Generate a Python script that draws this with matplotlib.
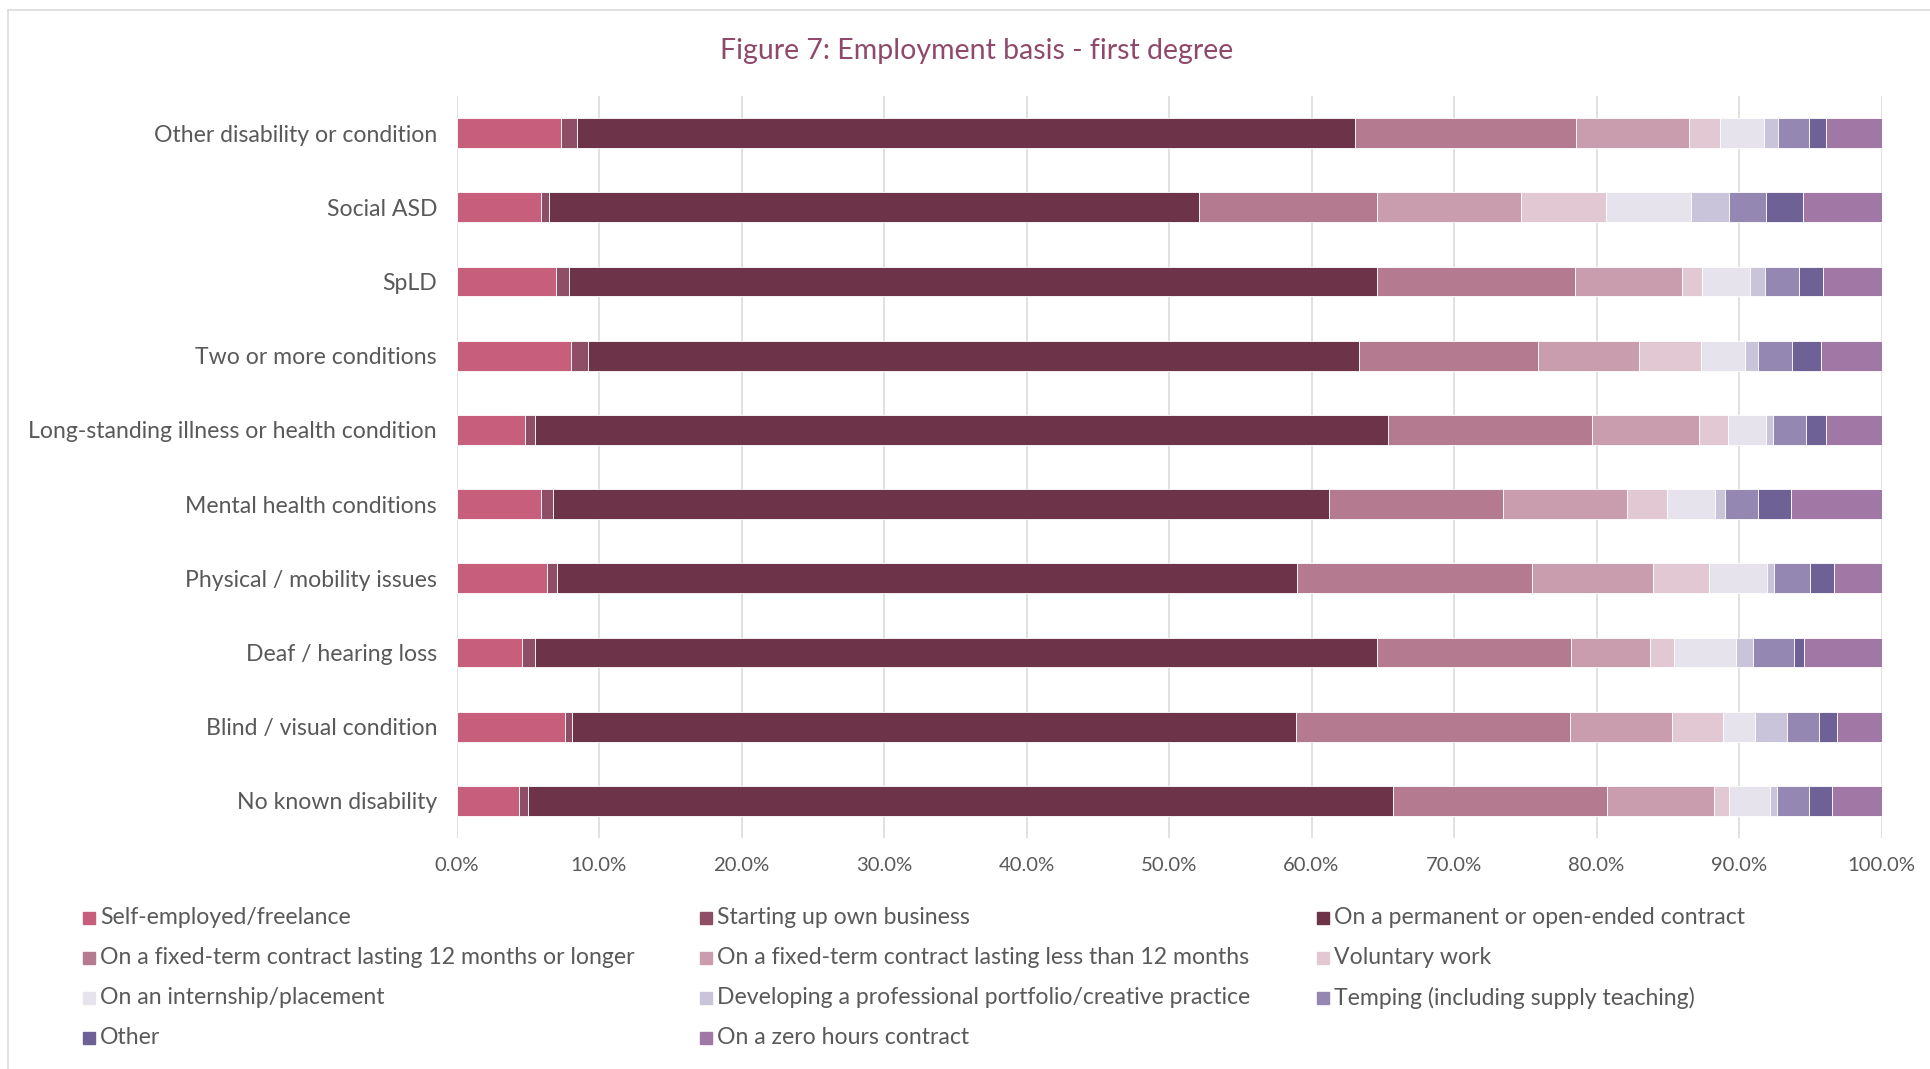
import matplotlib.pyplot as plt
import numpy as np
from matplotlib.patches import Rectangle
from matplotlib.lines import Line2D

plt.rcParams['font.family'] = ['Lato', 'DejaVu Sans']

# categories top to bottom
categories = ['Other disability or condition', 'Social ASD', 'SpLD', 'Two or more conditions',
              'Long-standing illness or health condition', 'Mental health conditions',
              'Physical / mobility issues', 'Deaf / hearing loss', 'Blind / visual condition',
              'No known disability']

# shares in %, same order as categories
self_employed = [7.30, 5.95, 6.95, 8.05, 4.79, 5.92, 6.33, 4.58, 7.64, 4.42]
starting_up = [1.16, 0.57, 0.92, 1.16, 0.75, 0.85, 0.72, 0.96, 0.47, 0.59]
permanent = [54.58, 45.61, 56.70, 54.10, 59.81, 54.46, 51.93, 59.03, 50.82, 60.69]
fixed_12plus = [15.51, 12.47, 13.92, 12.58, 14.33, 12.21, 16.48, 13.66, 19.22, 15.03]
fixed_under12 = [7.96, 10.10, 7.50, 7.09, 7.52, 8.71, 8.52, 5.53, 7.15, 7.52]
voluntary = [2.17, 5.97, 1.43, 4.36, 2.05, 2.80, 3.92, 1.67, 3.57, 1.05]
internship = [3.09, 5.97, 3.36, 3.09, 2.66, 3.38, 4.06, 4.33, 2.26, 2.85]
portfolio = [0.95, 2.63, 1.05, 0.91, 0.48, 0.70, 0.49, 1.21, 2.26, 0.51]
temping = [2.20, 2.61, 2.36, 2.37, 2.31, 2.29, 2.52, 2.87, 2.23, 2.26]
other = [1.21, 2.58, 1.67, 2.07, 1.43, 2.34, 1.67, 0.70, 1.29, 1.59]
zero_hours = [3.87, 5.54, 4.14, 4.22, 3.87, 6.34, 3.36, 5.46, 3.09, 3.49]

series_names = ['Self-employed/freelance', 'Starting up own business',
                'On a permanent or open-ended contract',
                'On a fixed-term contract lasting 12 months or longer',
                'On a fixed-term contract lasting less than 12 months', 'Voluntary work',
                'On an internship/placement',
                'Developing a professional portfolio/creative practice',
                'Temping (including supply teaching)', 'Other', 'On a zero hours contract']
series = [self_employed, starting_up, permanent, fixed_12plus, fixed_under12, voluntary,
          internship, portfolio, temping, other, zero_hours]
colors = ['#C75F7C', '#8E4F66', '#6D3349', '#B47A8F', '#C99DAD', '#E1C8D2',
          '#E6E3EC', '#C9C4D9', '#9487B1', '#6E6196', '#A077A5']

text_grey = '#595959'
W, H = 1930, 1069

fig = plt.figure(figsize=(W / 100, H / 100), dpi=100)
ax = fig.add_axes([456.5 / W, 1 - 838 / H, 1425 / W, 742 / H])

y = np.arange(len(categories))
left = np.zeros(len(categories))
for vals, c, name in zip(series, colors, series_names):
    ax.barh(y, vals, left=left, height=0.4, color=c, edgecolor='white', linewidth=0.6,
            label=name, zorder=3)
    left += np.array(vals)

ax.set_xlim(0, 100)
ax.set_ylim(len(categories) - 0.5, -0.5)
ax.set_yticks(y)
ax.set_yticklabels(categories)
ax.set_xticks(np.arange(0, 101, 10))
ax.set_xticklabels(['%.1f%%' % v for v in np.arange(0, 101, 10)])
ax.tick_params(length=0, colors=text_grey, pad=14)
ax.tick_params(axis='y', labelsize=16.6)
ax.tick_params(axis='x', labelsize=14.6)
ax.grid(axis='x', color='#D9D9D9', linewidth=1.1, zorder=0)
for s in ax.spines.values():
    s.set_visible(False)

fig.text(977 / W, 1 - 50.5 / H, 'Figure 7: Employment basis - first degree',
         ha='center', va='center', fontsize=20.5, color='#8F4A6B')

# legend, laid out row by row like the original
col_x = [82, 699, 1316]
row_y = [917.5, 957.5, 997.5, 1037.5]
for i, (name, c) in enumerate(zip(series_names, colors)):
    r, k = divmod(i, 3)
    x0, y0 = col_x[k], row_y[r]
    fig.add_artist(Rectangle(((x0 + 1) / W, 1 - (y0 + 6) / H), 12 / W, 12 / H,
                             transform=fig.transFigure, color=c))
    fig.text((x0 + 18) / W, 1 - y0 / H, name, ha='left', va='center',
             fontsize=16.6, color=text_grey)

# chart frame
fig.add_artist(Line2D([7.5 / W, 1], [1 - 10.3 / H, 1 - 10.3 / H], transform=fig.transFigure,
                      color='#D9D9D9', linewidth=1.1))
fig.add_artist(Line2D([7.5 / W, 7.5 / W], [0, 1 - 10.3 / H], transform=fig.transFigure,
                      color='#D9D9D9', linewidth=1.1))

fig.savefig('out.png', dpi=100, facecolor='white')
